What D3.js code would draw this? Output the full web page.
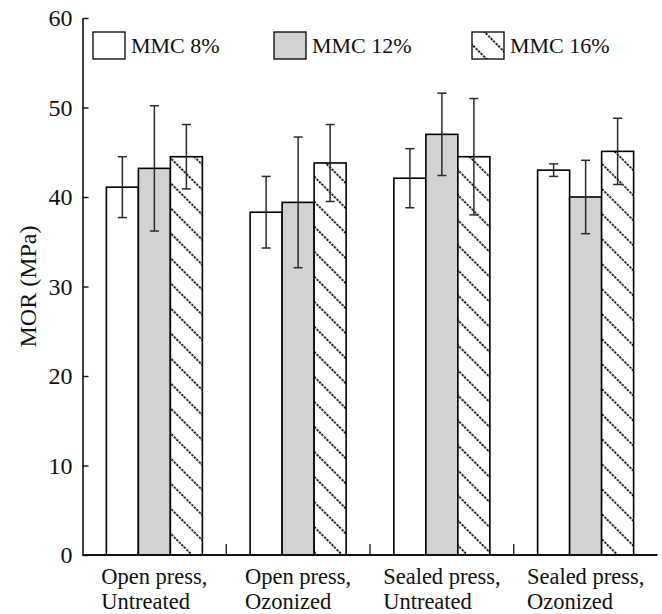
<!DOCTYPE html>
<html>
<head>
<meta charset="utf-8">
<script src="https://cdn.jsdelivr.net/npm/d3@7"></script>
<style>
  body { margin: 0; background: #fff; }
  text { font-family: "Liberation Serif", "Times New Roman", serif; fill: #111; }
</style>
</head>
<body>
<svg id="chart" width="662" height="614"></svg>
<script>
// Group labels (two lines each)
const categories = ["Open press, Untreated", "Open press, Ozonized", "Sealed press, Untreated", "Sealed press, Ozonized"];
const categoryLines = [["Open press,", "Untreated"], ["Open press,", "Ozonized"], ["Sealed press,", "Untreated"], ["Sealed press,", "Ozonized"]];
const seriesNames = ["MMC 8%", "MMC 12%", "MMC 16%"];

// Mean MOR (MPa) and standard deviation per group
const mmc8 = [41.1, 38.3, 42.1, 43.0];
const mmc8Err = [3.4, 4.0, 3.3, 0.7];
const mmc12 = [43.2, 39.4, 47.0, 40.0];
const mmc12Err = [7.0, 7.3, 4.6, 4.1];
const mmc16 = [44.5, 43.8, 44.5, 45.1];
const mmc16Err = [3.6, 4.3, 6.5, 3.7];

const yTicks = [0, 10, 20, 30, 40, 50, 60];

const seriesValues = [mmc8, mmc12, mmc16];
const seriesErrors = [mmc8Err, mmc12Err, mmc16Err];

const svg = d3.select("#chart");
const plotLeft = 82.5, plotRight = 657.5, plotTop = 18, plotBottom = 555;

const x0 = d3.scaleBand().domain(categories).range([plotLeft, plotRight]).paddingInner(0).paddingOuter(0);
const x1 = d3.scaleBand().domain(seriesNames).range([0, x0.bandwidth()]).paddingInner(0).paddingOuter(0.746);
const y = d3.scaleLinear().domain([0, 60]).range([plotBottom, plotTop]);

// Fill styles
const defs = svg.append("defs");
const tile = 17.7;
const pat = defs.append("pattern")
  .attr("id", "hatch")
  .attr("patternUnits", "userSpaceOnUse")
  .attr("width", tile).attr("height", tile)
  .attr("patternTransform", "rotate(-45)");
pat.append("rect").attr("width", tile).attr("height", tile).attr("fill", "#fff");
pat.append("line")
  .attr("x1", tile / 2).attr("y1", 0).attr("x2", tile / 2).attr("y2", tile)
  .attr("stroke", "#000").attr("stroke-width", 1.8)
  .attr("stroke-dasharray", "2.2 1.34");

const fills = { "MMC 8%": "#ffffff", "MMC 12%": "#d2d2d2", "MMC 16%": "url(#hatch)" };

// Flatten to records
const records = [];
categories.forEach((c, i) => {
  seriesNames.forEach((s, j) => {
    records.push({ cat: c, series: s, value: seriesValues[j][i], err: seriesErrors[j][i] });
  });
});

// Bars
svg.append("g").selectAll("rect")
  .data(records)
  .join("rect")
  .attr("x", d => x0(d.cat) + x1(d.series))
  .attr("y", d => y(d.value))
  .attr("width", x1.bandwidth())
  .attr("height", d => y(0) - y(d.value))
  .attr("fill", d => fills[d.series])
  .attr("stroke", "#000")
  .attr("stroke-width", 1.6);

// Error bars
const capHalf = 4.5;
const eg = svg.append("g").attr("stroke", "#2a2a2a").attr("stroke-width", 1.5).attr("fill", "none");
records.forEach(d => {
  const cx = x0(d.cat) + x1(d.series) + x1.bandwidth() / 2;
  const y1 = y(d.value + d.err), y2 = y(d.value - d.err);
  eg.append("line").attr("x1", cx).attr("x2", cx).attr("y1", y1).attr("y2", y2);
  eg.append("line").attr("x1", cx - capHalf).attr("x2", cx + capHalf).attr("y1", y1).attr("y2", y1);
  eg.append("line").attr("x1", cx - capHalf).attr("x2", cx + capHalf).attr("y1", y2).attr("y2", y2);
});

// Y axis with inward ticks
const yAxis = d3.axisLeft(y).tickValues(yTicks).tickSizeInner(-6).tickSizeOuter(0).tickPadding(10);
const yg = svg.append("g").attr("transform", `translate(${plotLeft},0)`).call(yAxis);
yg.select(".domain").attr("stroke", "#111").attr("stroke-width", 1.6);
yg.selectAll(".tick line").attr("stroke", "#111").attr("stroke-width", 1.4);
yg.selectAll(".tick text").attr("font-size", 24).attr("font-family", "Liberation Serif, serif").attr("fill", "#111");

// X axis: baseline plus inward ticks at group boundaries
const xg = svg.append("g");
xg.append("line").attr("x1", plotLeft).attr("x2", plotRight).attr("y1", y(0)).attr("y2", y(0))
  .attr("stroke", "#111").attr("stroke-width", 1.8);
xg.selectAll("line.tick")
  .data(categories.slice(1))
  .join("line")
  .attr("class", "tick")
  .attr("x1", d => x0(d)).attr("x2", d => x0(d))
  .attr("y1", y(0)).attr("y2", y(0) - 11)
  .attr("stroke", "#111").attr("stroke-width", 1.3);

// Group labels: two-line text, first line centred on the group, second aligned to its start
categories.forEach((c, i) => {
  const cx = x0(c) + x0.bandwidth() / 2;
  const t = svg.append("text").attr("font-size", 22.5).attr("y", 584);
  const l1 = t.append("tspan").text(categoryLines[i][0]);
  const w = l1.node().getComputedTextLength();
  const sx = cx - w / 2;
  l1.attr("x", sx);
  t.append("tspan").attr("x", sx).attr("dy", 25).text(categoryLines[i][1]);
});

// Y axis title
svg.append("text").attr("font-size", 24).attr("text-anchor", "middle")
  .attr("transform", `translate(36,${(plotTop + plotBottom) / 2}) rotate(-90)`)
  .text("MOR (MPa)");

// Legend
const legendX = [93, 274, 472];
const lg = svg.append("g");
seriesNames.forEach((s, j) => {
  const g = lg.append("g").attr("transform", `translate(${legendX[j]},32)`);
  g.append("rect").attr("width", 32).attr("height", 27)
    .attr("fill", fills[s]).attr("stroke", "#000").attr("stroke-width", 1.3);
  g.append("text").attr("x", 38).attr("y", 21).attr("font-size", 22).text(s);
});
</script>
</body>
</html>
